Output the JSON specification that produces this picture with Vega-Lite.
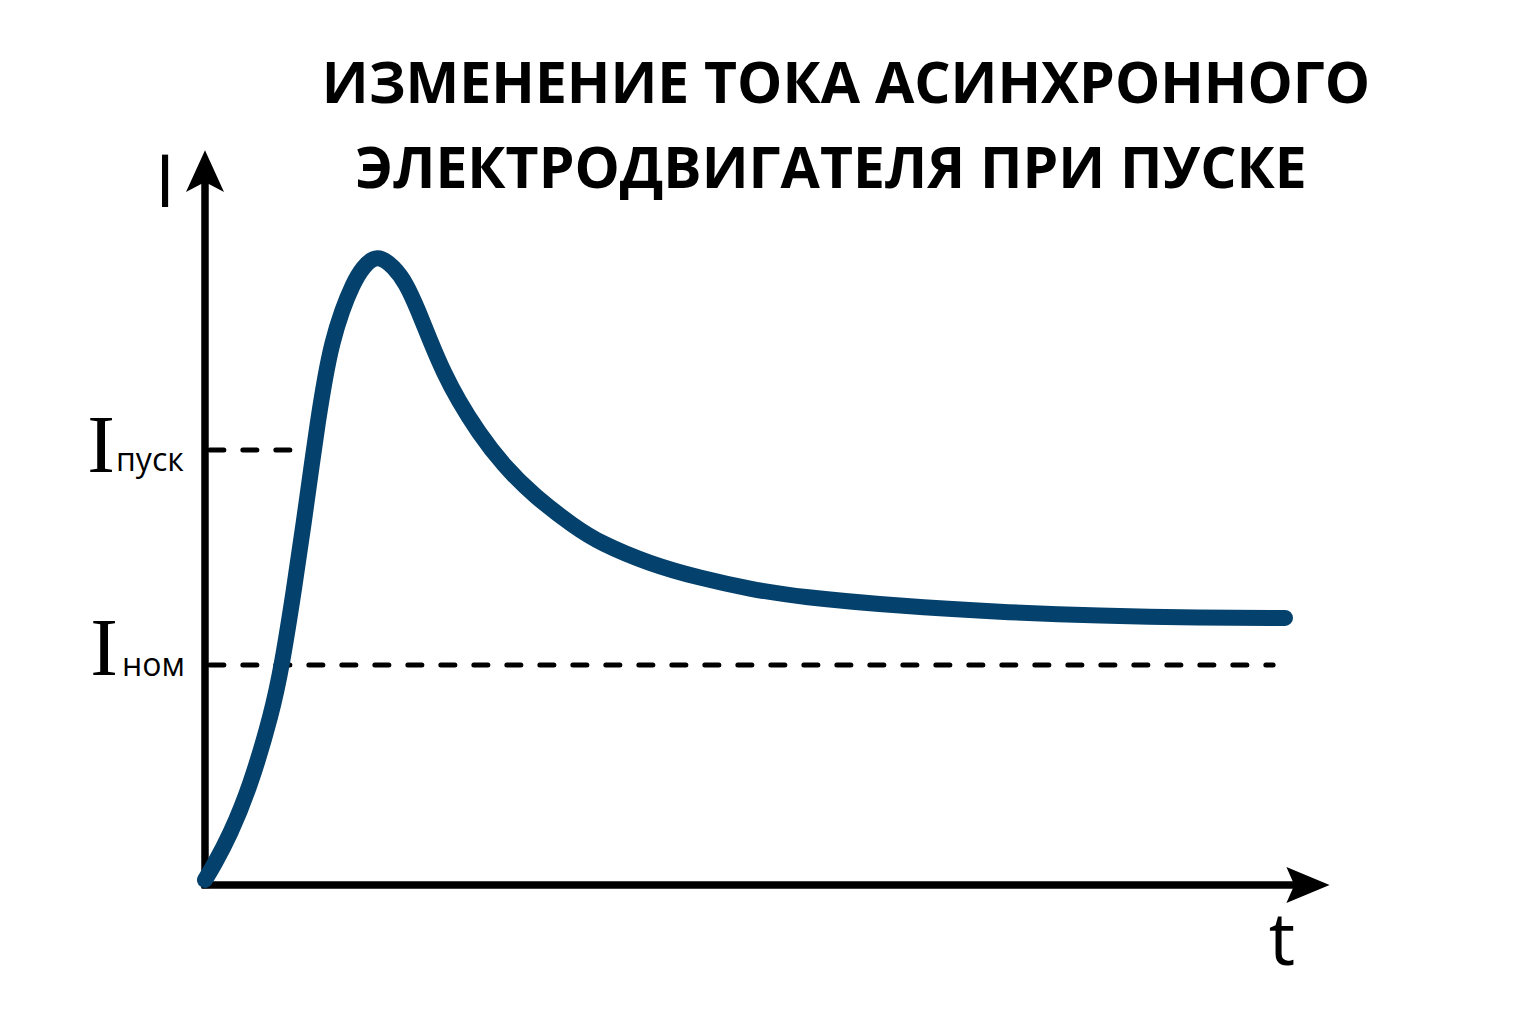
{
  "$schema": "https://vega.github.io/schema/vega-lite/v6.json",
  "width": 1536,
  "height": 1024,
  "autosize": {"type": "fit", "contains": "padding"},
  "padding": 0,
  "background": "white",
  "config": {"view": {"stroke": null}},
  "datasets": {
    "curve": [
      {"t": 0.0, "I": 0.023},
      {"t": 0.083, "I": 0.091},
      {"t": 0.231, "I": 0.227},
      {"t": 0.417, "I": 0.445},
      {"t": 0.62, "I": 0.782},
      {"t": 0.713, "I": 1.0},
      {"t": 0.824, "I": 1.341},
      {"t": 0.917, "I": 1.655},
      {"t": 0.991, "I": 1.918},
      {"t": 1.046, "I": 2.109},
      {"t": 1.111, "I": 2.305},
      {"t": 1.176, "I": 2.464},
      {"t": 1.269, "I": 2.614},
      {"t": 1.37, "I": 2.732},
      {"t": 1.454, "I": 2.805},
      {"t": 1.593, "I": 2.87},
      {"t": 1.75, "I": 2.809},
      {"t": 1.861, "I": 2.736},
      {"t": 1.972, "I": 2.614},
      {"t": 2.093, "I": 2.464},
      {"t": 2.213, "I": 2.327},
      {"t": 2.343, "I": 2.205},
      {"t": 2.528, "I": 2.059},
      {"t": 2.759, "I": 1.909},
      {"t": 3.056, "I": 1.764},
      {"t": 3.426, "I": 1.627},
      {"t": 3.657, "I": 1.555},
      {"t": 4.12, "I": 1.459},
      {"t": 4.583, "I": 1.395},
      {"t": 5.046, "I": 1.345},
      {"t": 5.509, "I": 1.309},
      {"t": 6.435, "I": 1.268},
      {"t": 7.361, "I": 1.241},
      {"t": 8.287, "I": 1.223},
      {"t": 9.213, "I": 1.214},
      {"t": 10.0, "I": 1.214}
    ],
    "axes": [
      {"t": 0.0, "t2": 0.0, "I": -0.015, "I2": 3.27},
      {"t": -0.03, "t2": 10.14, "I": 0.0, "I2": 0.0}
    ],
    "levels": [
      {"name": "Iпуск", "t": 0.045, "t2": 0.845, "I": 1.977, "I2": 1.977},
      {"name": "Iном", "t": 0.045, "t2": 9.89, "I": 1.0, "I2": 1.0}
    ],
    "arrowUp": [{"t": 0.0, "I": 3.245}],
    "arrowRight": [{"t": 10.213, "I": 0.0}],
    "title": [
      {"text": "ИЗМЕНЕНИЕ ТОКА АСИНХРОННОГО", "t": 5.935, "I": 3.555},
      {"text": "ЭЛЕКТРОДВИГАТЕЛЯ ПРИ ПУСКЕ", "t": 5.796, "I": 3.168}
    ],
    "serifI": [
      {"text": "I", "t": -0.963, "I": 1.877},
      {"text": "I", "t": -0.935, "I": 0.955}
    ],
    "subs": [
      {"text": "пуск", "t": -0.824, "I": 1.882},
      {"text": "ном", "t": -0.769, "I": 0.95}
    ],
    "axisNames": [
      {"text": "I", "t": -0.37, "I": 3.082},
      {"text": "t", "t": 9.972, "I": -0.364}
    ]
  },
  "encoding": {
    "x": {"field": "t", "type": "quantitative", "axis": null,
          "scale": {"domain": [-1.8981, 12.3241], "nice": false, "zero": false}},
    "y": {"field": "I", "type": "quantitative", "axis": null,
          "scale": {"domain": [-0.6318, 4.0227], "nice": false, "zero": false}}
  },
  "layer": [
    {
      "data": {"name": "levels"},
      "mark": {"type": "rule", "color": "black", "strokeWidth": 5, "strokeDash": [14, 19], "strokeCap": "round"},
      "encoding": {"x2": {"field": "t2"}, "y2": {"field": "I2"}}
    },
    {
      "data": {"name": "axes"},
      "mark": {"type": "rule", "color": "black", "strokeWidth": 7.5},
      "encoding": {"x2": {"field": "t2"}, "y2": {"field": "I2"}}
    },
    {
      "data": {"name": "arrowUp"},
      "mark": {"type": "point", "shape": "M0,-1.1L1,1.1L0,0.57L-1,1.1Z", "size": 1444, "filled": true, "color": "black", "opacity": 1, "strokeWidth": 0}
    },
    {
      "data": {"name": "arrowRight"},
      "mark": {"type": "point", "shape": "M1.2,0L-1.2,1L-0.76,0L-1.2,-1Z", "size": 1296, "filled": true, "color": "black", "opacity": 1, "strokeWidth": 0}
    },
    {
      "data": {"name": "curve"},
      "mark": {"type": "line", "interpolate": "basis", "color": "#04416c", "strokeWidth": 16, "strokeCap": "round", "strokeJoin": "round"}
    },
    {
      "data": {"name": "title"},
      "mark": {"type": "text", "font": "Open Sans", "fontWeight": "bold", "fontSize": 57, "align": "center", "baseline": "alphabetic", "color": "black"},
      "encoding": {"text": {"field": "text"}}
    },
    {
      "data": {"name": "serifI"},
      "mark": {"type": "text", "font": "Liberation Serif", "fontSize": 83, "align": "center", "baseline": "alphabetic", "color": "black"},
      "encoding": {"text": {"field": "text"}}
    },
    {
      "data": {"name": "subs"},
      "mark": {"type": "text", "font": "Open Sans", "fontSize": 32, "align": "left", "baseline": "alphabetic", "color": "black"},
      "encoding": {"text": {"field": "text"}}
    },
    {
      "data": {"name": "axisNames"},
      "mark": {"type": "text", "font": "Open Sans", "fontSize": 74, "align": "center", "baseline": "alphabetic", "color": "black"},
      "encoding": {"text": {"field": "text"}}
    }
  ]
}
